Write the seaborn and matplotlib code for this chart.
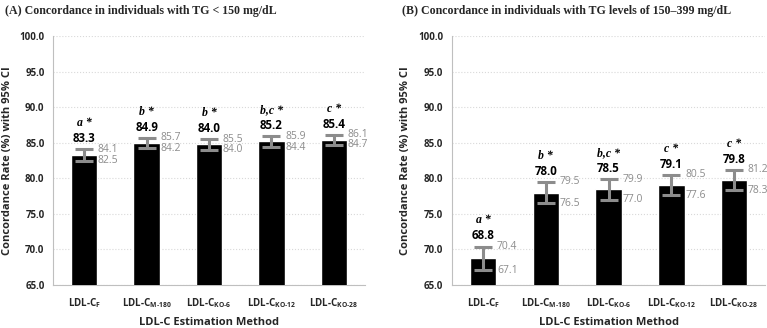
import numpy as np
import pandas as pd
import matplotlib
matplotlib.use("Agg")
from matplotlib import pyplot as plt
from matplotlib.ticker import FixedLocator
import seaborn as sns

# categories (x tick labels)
methods = ["LDL-C$_{F}$", "LDL-C$_{M\u2010180}$", "LDL-C$_{KO\u20106}$",
           "LDL-C$_{KO\u201012}$", "LDL-C$_{KO\u201028}$"]

# (A) TG < 150 mg/dL
rate_a = [83.3, 84.9, 84.8, 85.2, 85.4]
rate_text_a = ["83.3", "84.9", "84.0", "85.2", "85.4"]
lower_a = [82.5, 84.2, 84.0, 84.4, 84.7]
upper_a = [84.1, 85.7, 85.5, 85.9, 86.1]
group_a = ["a", "b", "b", "b,c", "c"]

# (B) TG 150-399 mg/dL
rate_b = [68.8, 78.0, 78.5, 79.1, 79.8]
rate_text_b = ["68.8", "78.0", "78.5", "79.1", "79.8"]
lower_b = [67.1, 76.5, 77.0, 77.6, 78.3]
upper_b = [70.4, 79.5, 79.9, 80.5, 81.2]
group_b = ["a", "b", "b,c", "c", "c"]

titles = ["(A) Concordance in individuals with TG < 150 mg/dL",
          "(B) Concordance in individuals with TG levels of 150\u2013399 mg/dL"]

sns.set_style("white")
plt.rcParams["font.family"] = ["Open Sans", "DejaVu Sans"]
plt.rcParams["mathtext.fontset"] = "custom"
plt.rcParams["mathtext.bf"] = "Open Sans:bold"
plt.rcParams["mathtext.rm"] = "Open Sans:bold"
plt.rcParams["mathtext.default"] = "bf"

fig = plt.figure(figsize=(7.67, 3.28), dpi=100)
ax_a = fig.add_axes([0.069, 0.131, 0.407, 0.759])
ax_b = fig.add_axes([0.589, 0.131, 0.409, 0.759])

grey = "#8c8c8c"
panels = [
    (ax_a, rate_a, rate_text_a, lower_a, upper_a, group_a),
    (ax_b, rate_b, rate_text_b, lower_b, upper_b, group_b),
]

for k, (ax, rate, rate_text, lo, hi, grp) in enumerate(panels):
    df = pd.DataFrame({"method": methods, "rate": rate})
    sns.barplot(data=df, x="method", y="rate", color="black", width=0.42,
                errorbar=None, ax=ax, zorder=3, saturation=1)
    x = np.arange(len(methods))
    mid = (np.array(lo) + np.array(hi)) / 2
    err = (np.array(hi) - np.array(lo)) / 2
    ax.errorbar(x, mid, yerr=err, fmt="none", ecolor=grey, elinewidth=2.2,
                capsize=6.5, capthick=2.2, zorder=4)

    for i in range(len(methods)):
        ax.text(i + 0.22, hi[i], f"{hi[i]:.1f}", color=grey, fontsize=7.5,
                ha="left", va="center", zorder=5)
        ax.text(i + 0.22, lo[i], f"{lo[i]:.1f}", color=grey, fontsize=7.5,
                ha="left", va="center", zorder=5)
        ax.annotate(rate_text[i], (i, hi[i]), xytext=(0, 3),
                    textcoords="offset points", ha="center", va="bottom",
                    fontsize=8.3, fontweight="bold", color="black", zorder=5)
        ax.annotate(grp[i] + " *", (i, hi[i]), xytext=(0, 14.5),
                    textcoords="offset points", ha="center", va="bottom",
                    fontsize=8.5, fontweight="bold", fontstyle="italic",
                    family="Liberation Serif", color="black", zorder=5)

    ax.set_ylim(65, 100)
    ax.set_xlim(-0.5, 4.5)
    ax.set_yticks(np.arange(65, 100.1, 5))
    ax.set_yticklabels([f"{v:.1f}" for v in np.arange(65, 100.1, 5)],
                       fontsize=7, fontweight="bold")
    ax.set_xticks(x)
    ax.set_xticklabels(methods, fontsize=7, fontweight="bold")
    ax.xaxis.set_minor_locator(FixedLocator(np.arange(-0.5, 4.6, 1)))
    ax.tick_params(axis="x", which="major", length=0, pad=8)
    ax.tick_params(axis="x", which="minor", length=4, color="#bfbfbf", width=0.8)
    ax.tick_params(axis="y", length=3, color="#bfbfbf", width=0.8, pad=3)
    ax.yaxis.grid(True, color="#d9d9d9", linestyle=":", linewidth=0.8)
    ax.set_axisbelow(True)
    sns.despine(ax=ax)
    for s in ["left", "bottom"]:
        ax.spines[s].set_color("#bfbfbf")
        ax.spines[s].set_linewidth(0.8)
    ax.set_xlabel("LDL-C Estimation Method", fontsize=8, fontweight="bold",
                  labelpad=5)
    ax.set_ylabel("Concordance Rate (%) with 95% CI", fontsize=8,
                  fontweight="bold", labelpad=5)

fig.text(0.006, 0.985, titles[0], family="Liberation Serif", fontweight="bold",
         fontsize=8.6, ha="left", va="top")
fig.text(0.524, 0.985, titles[1], family="Liberation Serif", fontweight="bold",
         fontsize=8.6, ha="left", va="top")

fig.savefig("out.png", dpi=100)
